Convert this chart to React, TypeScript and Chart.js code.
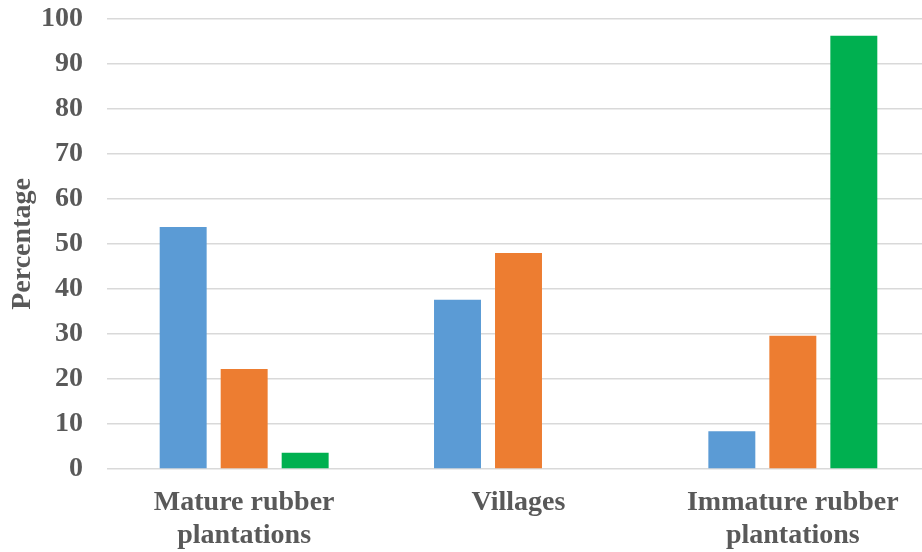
import React, { useEffect, useRef } from "react";
import { Chart, registerables } from "chart.js";

Chart.register(...registerables);

const categories: string[][] = [
  ["Mature rubber", "plantations"],
  ["Villages"],
  ["Immature rubber", "plantations"],
];
const series1: number[] = [53.8, 37.6, 8.4];
const series2: number[] = [22.2, 48.0, 29.6];
const series3: number[] = [3.6, 0, 96.3];
const seriesNames = ["Series 1", "Series 2", "Series 3"];
const colors = ["#5B9BD5", "#ED7D31", "#00B050"];
const yTitle = "Percentage";

export default function App() {
  const ref = useRef<HTMLCanvasElement | null>(null);
  useEffect(() => {
    document.body.style.margin = "0";
    const ctx = ref.current!;
    const font = "'Liberation Serif', 'Times New Roman', serif";
    const chart = new Chart(ctx, {
      type: "bar",
      data: {
        labels: categories,
        datasets: [series1, series2, series3].map((d, i) => ({
          label: seriesNames[i],
          data: d,
          backgroundColor: colors[i],
          borderWidth: 0,
          categoryPercentage: 0.667,
          barPercentage: 0.77,
        })),
      },
      options: {
        responsive: false,
        animation: false,
        layout: { padding: { left: 3, top: 19, right: 0, bottom: 0 } },
        plugins: { legend: { display: false }, tooltip: { enabled: false } },
        scales: {
          x: {
            grid: { display: false, drawTicks: false },
            border: { display: false },
            ticks: {
              color: "#595959",
              font: { family: font, size: 28, weight: "bold", lineHeight: 1.15 },
              padding: 18,
              maxRotation: 0,
              autoSkip: false,
            },
            afterFit: (s: any) => {
              s.paddingLeft = 0;
              s.paddingRight = 0;
              s.paddingTop = 0;
              s.paddingBottom = 0;
              s.height = 83;
            },
          },
          y: {
            min: 0,
            max: 100,
            ticks: {
              stepSize: 10,
              color: "#595959",
              font: { family: font, size: 28, weight: "bold" },
              padding: 24,
            },
            grid: { color: "#d9d9d9", lineWidth: 1.5, drawTicks: false },
            border: { display: false },
            title: {
              display: true,
              text: yTitle,
              color: "#595959",
              font: { family: font, size: 28, weight: "bold" },
              padding: { top: 3, bottom: 4 },
            },
            afterFit: (s: any) => {
              s.paddingLeft = 0;
              s.paddingRight = 0;
              s.paddingTop = 0;
              s.paddingBottom = 0;
              s.width = 104;
            },
          },
        },
      },
    });
    return () => chart.destroy();
  }, []);
  return (
    <div style={{ width: 922, height: 552, overflow: "hidden", position: "relative", background: "#fff" }}>
      <canvas ref={ref} width={930} height={552} style={{ display: "block" }} />
    </div>
  );
}
